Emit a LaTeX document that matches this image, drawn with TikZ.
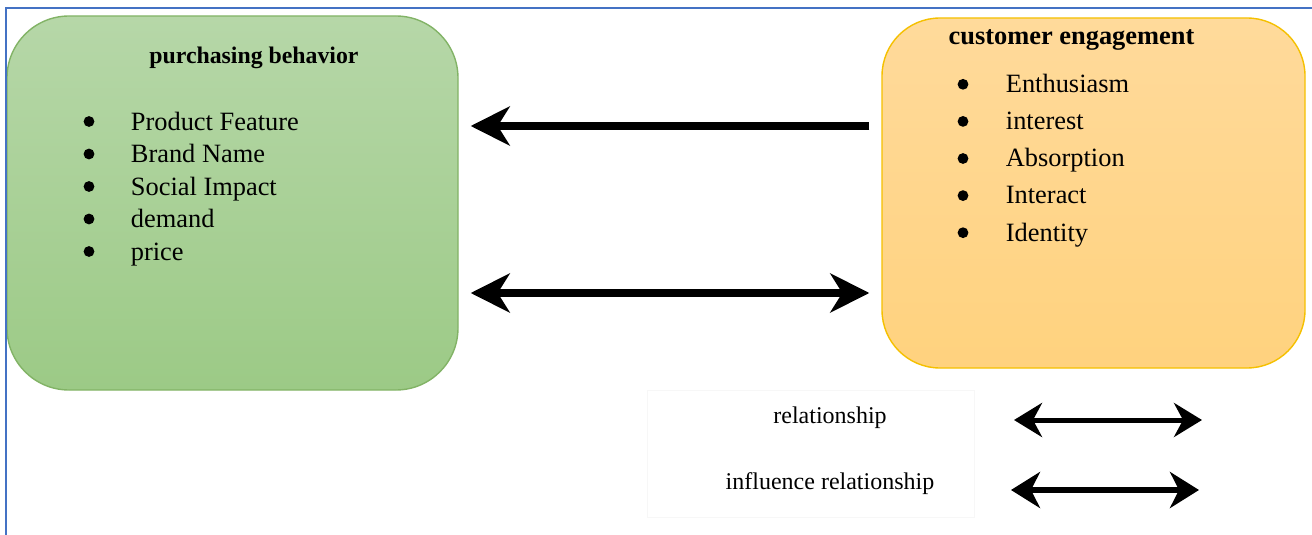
\documentclass[tikz,border=0pt]{standalone}
\usepackage{fontspec}
\setmainfont{Liberation Serif}
\usetikzlibrary{arrows.meta}
\definecolor{frameblue}{HTML}{4472C4}
\definecolor{gtop}{HTML}{B6D7A8}
\definecolor{gbot}{HTML}{9CCA86}
\definecolor{gline}{HTML}{82B366}
\definecolor{otop}{HTML}{FFDA9B}
\definecolor{obot}{HTML}{FFD27E}
\definecolor{oline}{HTML}{F5C000}
\definecolor{legline}{HTML}{F7F7F7}
\begin{document}
\begin{tikzpicture}[x=0.5pt,y=-0.5pt,
  box/.style={draw, line width=0.7pt, inner sep=0pt},
  itemtext/.style={anchor=base west, font=\fontsize{13.2}{15}\selectfont, inner sep=0pt},
  titletext/.style={anchor=base, font=\bfseries\fontsize{#1}{15}\selectfont, inner sep=0pt},
  legtext/.style={anchor=base, font=\fontsize{12}{14}\selectfont, inner sep=0pt},
  dot/.style={circle, fill=black, inner sep=0pt, minimum size=5.4pt},
  bigarrow/.style={line width=3.7pt, -{Stealth[length=19.5pt,width=19.5pt,inset=6pt]}},
  bigdarrow/.style={line width=3.7pt, {Stealth[length=19.5pt,width=19.5pt,inset=6pt]}-{Stealth[length=19.5pt,width=19.5pt,inset=6pt]}},
  legarrowa/.style={line width=2.5pt, {Stealth[length=14pt,width=17pt,inset=4.5pt]}-{Stealth[length=14pt,width=17pt,inset=4.5pt]}},
  legarrowb/.style={line width=3.4pt, {Stealth[length=14.5pt,width=18pt,inset=4.5pt]}-{Stealth[length=14.5pt,width=18pt,inset=4.5pt]}}
]
\useasboundingbox (0,0) rectangle (1312,535);

% boxes
\node[box, draw=gline, top color=gtop, bottom color=gbot, rounded corners=31pt,
      minimum width=225.5pt, minimum height=187pt] (pb) at (232.5,203) {};
\node[box, draw=oline, top color=otop, bottom color=obot, rounded corners=29pt,
      minimum width=211.5pt, minimum height=175pt] (ce) at (1093.5,193) {};

% titles
\node[titletext=11.9] (pbt) at (254,63.5) {purchasing behavior};
\node[titletext=13.2] (cet) at (1071.5,44.5) {customer engagement};

% left list
\foreach \t [count=\i] in {Product Feature,Brand Name,Social Impact,demand,price}{
  \node[dot] (pbd\i) at (89,{121.5+32.5*(\i-1)}) {};
  \node[itemtext] (pbi\i) at (130.5,{130.3+32.5*(\i-1)}) {\t};
}
% right list
\foreach \t [count=\i] in {Enthusiasm,interest,Absorption,Interact,Identity}{
  \node[dot] (ced\i) at (963,{84.3+37.1*(\i-1)}) {};
  \node[itemtext] (cei\i) at (1005.5,{92.7+37.1*(\i-1)}) {\t};
}

% main arrows
\coordinate (a1s) at ([xshift=-6pt]ce.west |- 0,126);
\coordinate (a1e) at ([xshift=6pt]pb.east |- 0,126);
\coordinate (a2l) at ([xshift=6pt]pb.east |- 0,293);
\coordinate (a2r) at ([xshift=-6pt]ce.west |- 0,293);
\draw[bigarrow] (a1s) -- (a1e);
\draw[bigdarrow] (a2l) -- (a2r);

% legend
\node[draw=legline, line width=0.5pt, inner sep=0pt, minimum width=163.5pt, minimum height=63.5pt] (leg) at (810.5,453.5) {};
\node[legtext] (l1) at (830,423) {relationship};
\node[legtext] (l2) at (830,489) {influence relationship};
\coordinate (la1l) at (1014,420);
\coordinate (la1r) at (1202,420);
\coordinate (la2l) at (1011,490);
\coordinate (la2r) at (1199,490);
\draw[legarrowa] (la1l) -- (la1r);
\draw[legarrowb] (la2l) -- (la2r);

% frame
\draw[frameblue, line width=1.4pt] (6,535) -- (6,8) -- (1312,8);
\end{tikzpicture}
\end{document}
